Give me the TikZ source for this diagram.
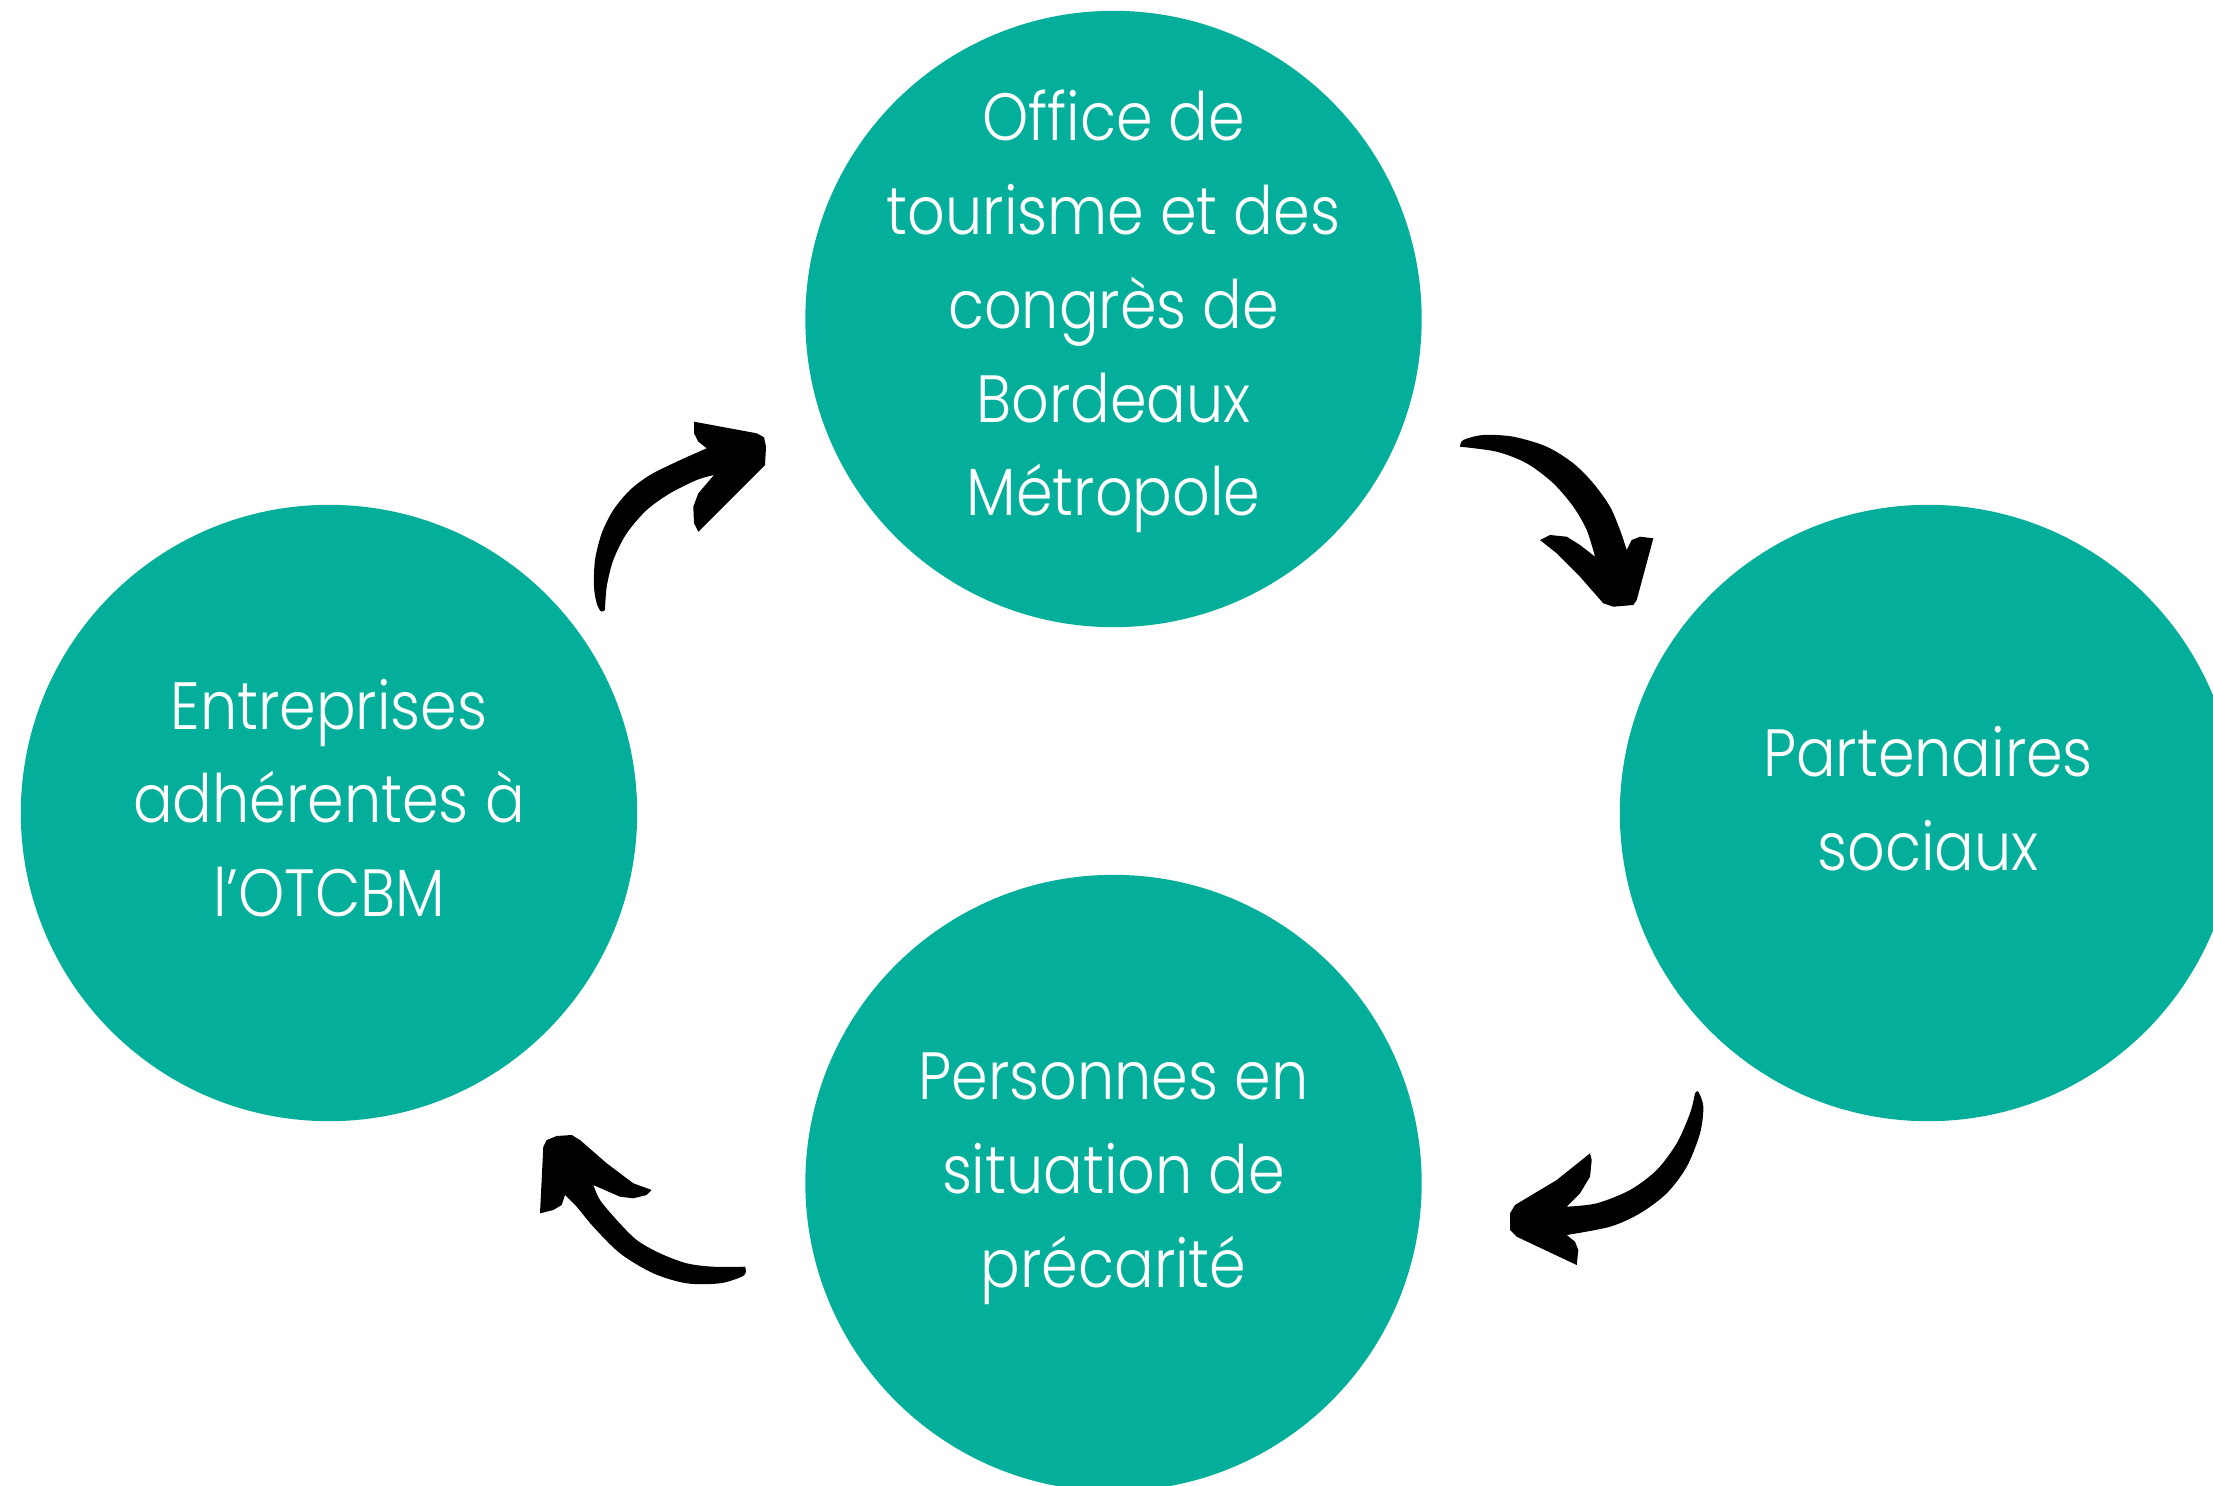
\documentclass[tikz,border=0pt]{standalone}
\usepackage{fontspec}
\setmainfont{Poppins}[UprightFont=* Light, FakeStretch=0.88]
\usetikzlibrary{calc}
\definecolor{teal1}{RGB}{3,175,155}
\begin{document}
\begin{tikzpicture}[x=0.01cm,y=-0.01cm,
  bubble/.style={circle, fill=teal1, minimum size=6.16cm, inner sep=0pt},
  txt/.style={text=white, align=center, inner sep=0pt, font=\fontsize{19}{26.7}\selectfont},
  brush/.style={fill=black}]
\useasboundingbox (0,0) rectangle (2213,1485);
\clip (0,0) rectangle (2213,1485);
\fill[white] (0,0) rectangle (2213,1485);
\node[bubble] (top) at (1113.5,319) {};
\node[bubble] (left) at (329,813) {};
\node[bubble] (right) at (1928,813) {};
\node[bubble] (bottom) at (1113.5,1183) {};
\node[txt] (toptxt) at ($(top)+(0,-7.5)$) {Office de\\tourisme et des\\congrès de\\Bordeaux\\Métropole};
\node[txt] (lefttxt) at ($(left)+(0,-15)$) {Entreprises\\adhérentes à\\l’OTCBM};
\node[txt] (righttxt) at ($(right)+(0,-14)$) {Partenaires\\sociaux};
\node[txt] (bottomtxt) at ($(bottom)+(0,-4.5)$) {Personnes en\\situation de\\précarité};
% arrow left -> top
\fill[brush] (605,610) -- plot[smooth] coordinates {(605,610) (601,611.5) (596.7,603.3) (594,586.7) (595,560) (601.7,533.3) (613.3,510) (630,490) (650,475) (676.7,461.7) (706.7,448.3)} -- (698.3,441.7) -- (694,433.3) -- (694,421.7) -- (756.7,433.3) -- (764,437.3) -- (766,446.7) -- (765,465) -- (698.3,531.7) -- (694,523.3) -- (693.3,506.7) -- (698.3,493.3) -- (714,475) -- plot[smooth] coordinates {(714,475) (696.7,480) (670,493.3) (646.7,510) (626.7,533.3) (613.3,560) (606.7,586.7) (605,610)} -- cycle;
% arrow top -> right
\fill[brush] (1460,446.7) -- plot[smooth] coordinates {(1460,446.7) (1463.3,440) (1483.3,435) (1513.3,436.7) (1546.7,446.7) (1573.3,463.3) (1593.3,483.3) (1610,506.7) (1620,530) (1626.7,550)} -- (1631.7,540) -- (1640,536.7) -- (1653.3,538.3) -- (1636.7,600) -- (1633.3,605) -- (1613.3,606.7) -- (1603.3,603.3) -- (1580,576.7) -- (1556.7,553.3) -- (1540,540) -- (1550,535) -- (1566.7,536.7) -- (1580,545) -- (1595,556.7) -- plot[smooth] coordinates {(1595,556.7) (1586.7,530) (1573.3,506.7) (1553.3,483.3) (1526.7,463.3) (1496.7,451.7) (1460,446.7)} -- cycle;
% arrow right -> bottom
\fill[brush] (1695,1093.3) -- plot[smooth] coordinates {(1695,1093.3) (1698.3,1091.7) (1703.3,1106.7) (1700,1133.3) (1686.7,1166.7) (1666.7,1193.3) (1640,1213.3) (1610,1226.7) (1566.7,1235)} -- (1575,1241.7) -- (1578.3,1250) -- (1576.7,1265) -- (1516.7,1236.7) -- (1510,1230) -- (1510,1213.3) -- (1515,1205) -- (1556.7,1180) -- (1590,1153.3) -- (1591.7,1160) -- (1590,1176.7) -- (1580,1193.3) -- (1566.7,1206.7) -- plot[smooth] coordinates {(1566.7,1206.7) (1596.7,1203.3) (1630,1190) (1656.7,1170) (1676.7,1143.3) (1690,1113.3) (1695,1093.3)} -- cycle;
% arrow bottom -> left
\fill[brush] (745,1266.7) -- plot[smooth] coordinates {(745,1266.7) (746,1271.7) (741.7,1276.7) (720,1283.3) (686.7,1283.3) (653.3,1273.3) (620,1253.3) (593.3,1226.7) (576.7,1206.7) (565,1195)} -- (561.7,1205) -- (553.3,1210) -- (540,1213.3) -- (543.3,1146.7) -- (546.7,1140) -- (556.7,1136) -- (571.7,1135) -- (580,1140) -- (606.7,1163.3) -- (633.3,1183.3) -- (651.7,1190) -- (646.7,1195) -- (633.3,1198.3) -- (620,1196.7) -- (593.3,1185) -- plot[smooth] coordinates {(593.3,1185) (600,1200) (616.7,1220) (636.7,1240) (660,1253.3) (686.7,1263.3) (713.3,1266.7) (745,1266.7)} -- cycle;
\end{tikzpicture}
\end{document}
